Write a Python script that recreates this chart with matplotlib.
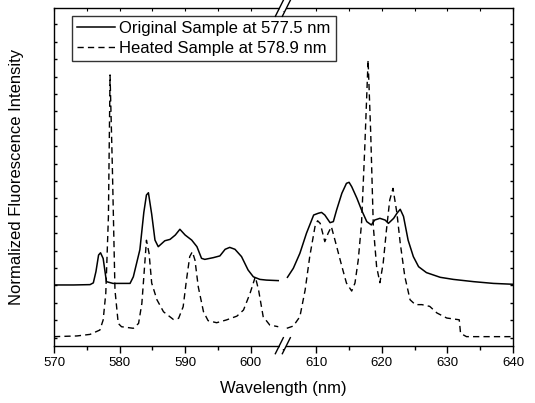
import numpy as np
import matplotlib
matplotlib.use("Agg")
import matplotlib.pyplot as plt
from matplotlib.lines import Line2D
from matplotlib.patches import Rectangle

plt.rcParams['font.family'] = ['Liberation Sans', 'DejaVu Sans']

# Emission spectra (wavelength in nm, intensity in arbitrary normalized units).
# NaN marks the gap where the wavelength axis is broken.
wl_original = [570.0, 573.0, 575.5, 576.0, 576.4, 576.8, 577.1, 577.5, 578.0, 579.0,
               581.6, 582.1, 583.1, 583.7, 584.1, 584.4, 584.9, 585.4, 585.9, 586.9, 587.7,
               588.5, 589.2, 590.0, 591.0, 591.8, 592.5, 593.0, 594.3, 595.3, 596.1,
               596.8, 597.6, 598.6, 599.6, 600.4, 601.4, 602.4, 604.2, np.nan,
               605.6, 606.5, 607.5, 608.5, 609.6, 610.3, 610.8, 611.3, 612.1, 612.6,
               613.1, 613.9, 614.6, 615.0, 615.4, 616.2, 616.9, 617.7, 618.4, 618.9,
               619.7, 620.5, 621.0, 621.8, 622.3, 622.8, 623.3, 624.0, 624.8, 625.6,
               626.8, 628.9, 630.9, 634.0, 637.0, 640.0]
int_original = [3.03, 3.03, 3.05, 3.15, 3.8, 4.75, 4.88, 4.55, 3.22, 3.12,
                3.12, 3.5, 5.06, 7.2, 8.2, 8.33, 7.1, 5.61, 5.23, 5.57, 5.65,
                5.9, 6.23, 5.9, 5.61, 5.23, 4.56, 4.5, 4.6, 4.7, 5.08,
                5.19, 5.08, 4.66, 3.89, 3.5, 3.35, 3.31, 3.28, np.nan,
                3.47, 3.99, 4.85, 6.0, 7.05, 7.15, 7.2, 7.05, 6.61, 6.67,
                7.34, 8.3, 8.87, 8.93, 8.68, 8.01, 7.34, 6.67, 6.48, 6.76,
                6.86, 6.76, 6.57, 6.86, 7.15, 7.38, 6.97, 5.61, 4.66, 4.08,
                3.74, 3.47, 3.35, 3.22, 3.12, 3.07]

wl_heated = [570.0, 573.5, 575.5, 577.0, 577.5, 577.9, 578.3, 578.55, 578.9, 579.3,
             579.8, 580.3, 582.1, 582.9, 583.4, 583.7, 584.1, 584.5, 584.9, 585.7,
             586.7, 588.2, 589.0, 589.7, 590.2, 590.7, 591.1, 591.5, 592.0, 592.8,
             593.5, 594.8, 596.3, 597.9, 598.9, 599.9, 600.7, 601.2, 601.9, 602.9,
             604.2, np.nan,
             605.5, 606.5, 607.5, 608.3, 609.0, 609.8, 610.2, 610.6, 611.3, 611.8,
             612.3, 613.1, 613.9, 614.6, 615.4, 615.9, 616.4, 616.9, 617.4, 617.9,
             618.3, 618.7, 619.2, 619.7, 620.2, 620.7, 621.2, 621.7, 622.3, 622.8,
             623.5, 624.3, 625.1, 626.1, 627.3, 628.4, 629.9, 631.8, 632.0, 632.9,
             640.0]
int_heated = [0.06, 0.10, 0.19, 0.44, 1.02, 2.55, 6.95, 15.1, 9.83, 2.74,
              0.82, 0.63, 0.54, 0.82, 1.97, 3.5, 5.6, 4.85, 3.14, 2.18,
              1.49, 1.05, 1.11, 1.78, 3.31, 4.66, 4.94, 4.46, 2.93, 1.49,
              0.98, 0.86, 1.02, 1.24, 1.59, 2.55, 3.5, 2.74, 1.21, 0.73,
              0.63, np.nan,
              0.54, 0.67, 1.21, 2.74, 4.66, 6.38, 6.72, 6.57, 5.52, 6.0,
              6.38, 5.25, 4.1, 3.14, 2.68, 3.14, 4.47, 6.57, 10.98, 15.96,
              11.75, 6.38, 4.08, 3.16, 4.28, 6.19, 7.91, 8.58, 7.15, 5.44,
              3.52, 2.18, 1.9, 1.9, 1.8, 1.42, 1.13, 1.03, 0.25, 0.06,
              0.06]

label_original = 'Original Sample at 577.5 nm'
label_heated = 'Heated Sample at 578.9 nm'
x_break = 604.9

fig = plt.figure(figsize=(5.35, 4.03), dpi=100)
ax = fig.add_axes([0.1009, 0.1422, 0.8580, 0.8372])

ax.plot(wl_original, int_original, color='black', lw=1.1, label=label_original)
ax.plot(wl_heated, int_heated, color='black', lw=1.0, dashes=(4.5, 3), label=label_heated)

ax.set_xlim(570, 640)
ax.set_ylim(-0.46, 18.93)
ax.set_xticks(np.arange(570, 641, 10))
ax.set_xticks(np.arange(575, 640, 10), minor=True)
ax.set_yticks(np.arange(0, 19, 1))
ax.set_yticklabels([])

ax.tick_params(axis='x', which='major', direction='out', length=5, width=1,
               labelsize=9.5, top=False, pad=3)
ax.tick_params(axis='x', which='minor', direction='out', length=3, width=1, top=False)
ax.tick_params(axis='y', which='major', direction='in', length=2.5, width=1,
               left=True, right=True)
for s in ax.spines.values():
    s.set_linewidth(1.0)

# small inward ticks along the top spine
top = ax.secondary_xaxis('top')
top.set_xticks(np.arange(570, 641, 5))
top.tick_params(direction='in', length=2, width=0.8, labeltop=False)
top.spines['top'].set_visible(False)

ax.set_xlabel('Wavelength (nm)', fontsize=12, labelpad=9)
ax.set_ylabel('Normalized Fluorescence Intensity', fontsize=12, labelpad=18)

leg = ax.legend(loc='upper left', bbox_to_anchor=(0.039, 0.977), fontsize=12,
                frameon=True, fancybox=False, edgecolor='black', handlelength=2.3,
                handletextpad=0.25, borderpad=0.3, labelspacing=0.3,
                borderaxespad=0.0)
leg.get_frame().set_linewidth(1.0)

# axis-break marks on the bottom and top spines
fig.canvas.draw()
bx, _ = ax.transData.transform((x_break, 0))
y_bot = ax.transAxes.transform((0, 0))[1]
y_top = ax.transAxes.transform((0, 1))[1]
W, H = fig.get_size_inches() * fig.dpi
for yc in (y_bot, y_top):
    gap = Rectangle(((bx - 3) / W, (yc - 3) / H), 6 / W, 6 / H,
                    transform=fig.transFigure, facecolor='white',
                    edgecolor='none', zorder=10)
    fig.add_artist(gap)
    for dx in (-3.5, 3.5):
        ln = Line2D([(bx + dx - 4) / W, (bx + dx + 4) / W],
                    [(yc - 8) / H, (yc + 8) / H],
                    transform=fig.transFigure, color='black', lw=1.0, zorder=11)
        fig.add_artist(ln)

fig.savefig('out.png', dpi=100)
